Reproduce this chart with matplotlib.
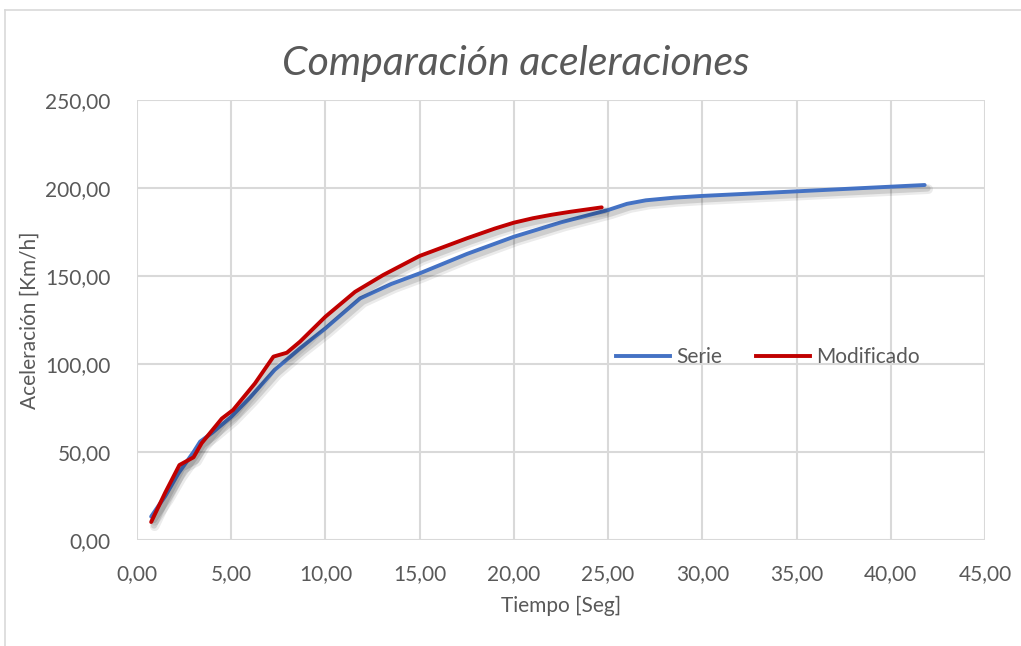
import matplotlib
matplotlib.use("Agg")
import matplotlib.pyplot as plt
import matplotlib.patheffects as pe
from matplotlib.lines import Line2D
from matplotlib.ticker import FuncFormatter, MultipleLocator

# Tiempo [s] y velocidad [km/h] de cada serie
t_serie = [0.75, 1.5, 2.2, 3.0, 3.35, 4.0, 5.0, 6.0, 7.3, 8.65, 10.0, 11.84, 13.5,
           15.0, 17.5, 20.0, 22.5, 25.0, 26.0, 27.0, 28.5, 30.0, 35.0, 41.8]
v_serie = [13.3, 25.0, 37.9, 50.0, 55.9, 61.0, 70.0, 81.0, 96.6, 108.9, 120.3, 137.3, 145.5,
           151.5, 162.5, 172.3, 180.5, 187.5, 191.0, 193.0, 194.5, 195.5, 198.1, 201.7]

t_mod = [0.75, 1.5, 2.25, 3.0, 3.43, 4.5, 5.1, 6.26, 7.24, 7.95, 8.65, 10.0, 11.57,
         13.07, 15.0, 17.5, 19.0, 20.0, 21.0, 22.0, 23.0, 24.66]
v_mod = [10.2, 27.0, 42.6, 47.0, 55.0, 69.0, 73.9, 89.0, 104.2, 106.4, 112.7, 126.9, 141.0,
         150.6, 161.4, 171.4, 177.0, 180.3, 182.8, 184.8, 186.5, 189.0]

plt.rcParams['font.family'] = ['Lato', 'DejaVu Sans']
txt = '#595959'
grid = '#d9d9d9'

fig = plt.figure(figsize=(10.21, 6.46), dpi=100)
ax = fig.add_axes([0.1342, 0.1641, 0.8305, 0.6811])

# sombra difusa bajo las líneas
shadow = [pe.SimpleLineShadow(offset=(2.5, -3), shadow_color='#000000', alpha=0.08, linewidth=7),
          pe.SimpleLineShadow(offset=(2, -2.5), shadow_color='#000000', alpha=0.12, linewidth=4.5),
          pe.Normal()]

ax.plot(t_serie, v_serie, color='#4472c4', lw=2.8, solid_capstyle='round',
        solid_joinstyle='round', path_effects=shadow, zorder=3)
ax.plot(t_mod, v_mod, color='#c00000', lw=2.8, solid_capstyle='round',
        solid_joinstyle='round', path_effects=shadow, zorder=4)

ax.set_xlim(0, 45)
ax.set_ylim(0, 250)
ax.xaxis.set_major_locator(MultipleLocator(5))
ax.yaxis.set_major_locator(MultipleLocator(50))
fmt = FuncFormatter(lambda v, p: f"{v:.2f}".replace('.', ','))
ax.xaxis.set_major_formatter(fmt)
ax.yaxis.set_major_formatter(fmt)
ax.grid(True, color=grid, lw=1.5)
ax.set_axisbelow(True)
for s in ax.spines.values():
    s.set_visible(False)
ax.tick_params(length=0, labelsize=15, colors=txt)
ax.tick_params(axis='x', pad=17)
ax.tick_params(axis='y', pad=19)

ax.set_xlabel('Tiempo [Seg]', fontsize=15, color=txt, labelpad=9)
ax.set_ylabel('Aceleración [Km/h]', fontsize=15, color=txt, labelpad=4)
fig.text(0.505, 0.901, 'Comparación aceleraciones', fontsize=29.5, style='italic',
         color=txt, ha='center', va='center')

handles = [Line2D([], [], color='#4472c4', lw=2.8),
           Line2D([], [], color='#c00000', lw=2.8)]
leg = ax.legend(handles, ['Serie', 'Modificado'], loc='center', bbox_to_anchor=(0.744, 0.416),
                ncol=2, frameon=False, fontsize=15, handlelength=2.6, handletextpad=0.3,
                columnspacing=1.6)
for t in leg.get_texts():
    t.set_color(txt)

# marco del gráfico
fig.add_artist(Line2D([5 / 1021, 5 / 1021], [0, 1 - 10 / 646], color=grid, lw=1.2))
fig.add_artist(Line2D([5 / 1021, 1], [1 - 10 / 646, 1 - 10 / 646], color=grid, lw=1.2))

fig.savefig('out.png', dpi=100, facecolor='white')
